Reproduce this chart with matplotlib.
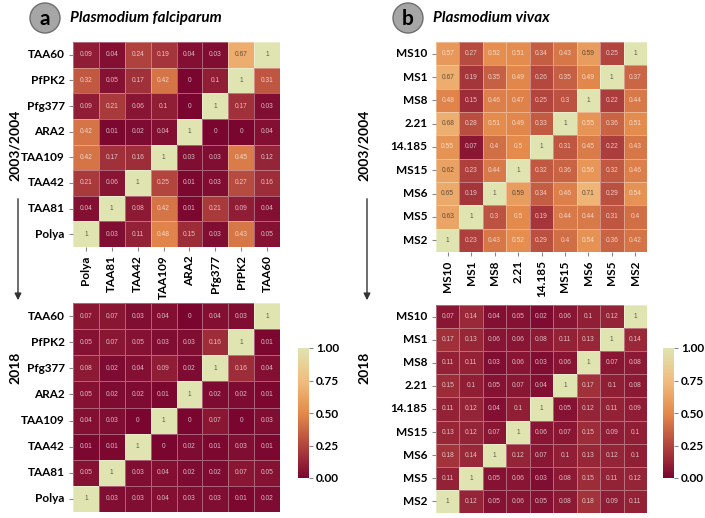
import numpy as np
import matplotlib
matplotlib.use("Agg")
import matplotlib.pyplot as plt
import seaborn as sns
from matplotlib.colors import LinearSegmentedColormap
from matplotlib.patches import Circle

pf_loci = ["TAA60", "PfPK2", "Pfg377", "ARA2", "TAA109", "TAA42", "TAA81", "Polya"]
pf_cols = ["Polya", "TAA81", "TAA42", "TAA109", "ARA2", "Pfg377", "PfPK2", "TAA60"]
pv_loci = ["MS10", "MS1", "MS8", "2.21", "14.185", "MS15", "MS6", "MS5", "MS2"]
pv_cols = ["MS10", "MS1", "MS8", "2.21", "14.185", "MS15", "MS6", "MS5", "MS2"]

pf_2003 = [
    [0.09, 0.04, 0.24, 0.19, 0.04, 0.03, 0.67, 1],
    [0.32, 0.05, 0.17, 0.42, 0, 0.1, 1, 0.31],
    [0.09, 0.21, 0.06, 0.1, 0, 1, 0.17, 0.03],
    [0.42, 0.01, 0.02, 0.04, 1, 0, 0, 0.04],
    [0.42, 0.17, 0.16, 1, 0.03, 0.03, 0.45, 0.12],
    [0.21, 0.06, 1, 0.25, 0.01, 0.03, 0.27, 0.16],
    [0.04, 1, 0.08, 0.42, 0.01, 0.21, 0.09, 0.04],
    [1, 0.03, 0.11, 0.48, 0.15, 0.03, 0.43, 0.05],
]
pf_2018 = [
    [0.07, 0.07, 0.03, 0.04, 0, 0.04, 0.03, 1],
    [0.05, 0.07, 0.05, 0.03, 0.03, 0.16, 1, 0.01],
    [0.08, 0.02, 0.04, 0.09, 0.02, 1, 0.16, 0.04],
    [0.05, 0.02, 0.02, 0.01, 1, 0.02, 0.02, 0.01],
    [0.04, 0.03, 0, 1, 0, 0.07, 0, 0.03],
    [0.01, 0.01, 1, 0, 0.02, 0.01, 0.03, 0.01],
    [0.05, 1, 0.03, 0.04, 0.02, 0.02, 0.07, 0.05],
    [1, 0.03, 0.03, 0.04, 0.03, 0.03, 0.01, 0.02],
]
pv_2003 = [
    [0.57, 0.27, 0.52, 0.51, 0.34, 0.43, 0.59, 0.25, 1],
    [0.67, 0.19, 0.35, 0.49, 0.26, 0.35, 0.49, 1, 0.37],
    [0.48, 0.15, 0.46, 0.47, 0.25, 0.3, 1, 0.22, 0.44],
    [0.68, 0.28, 0.51, 0.49, 0.33, 1, 0.55, 0.36, 0.51],
    [0.55, 0.07, 0.4, 0.5, 1, 0.31, 0.45, 0.22, 0.43],
    [0.62, 0.23, 0.44, 1, 0.32, 0.36, 0.56, 0.32, 0.46],
    [0.65, 0.19, 1, 0.59, 0.34, 0.46, 0.71, 0.29, 0.54],
    [0.63, 1, 0.3, 0.5, 0.19, 0.44, 0.44, 0.31, 0.4],
    [1, 0.23, 0.43, 0.52, 0.29, 0.4, 0.54, 0.36, 0.42],
]
pv_2018 = [
    [0.07, 0.14, 0.04, 0.05, 0.02, 0.06, 0.1, 0.12, 1],
    [0.17, 0.13, 0.06, 0.06, 0.08, 0.11, 0.13, 1, 0.14],
    [0.11, 0.11, 0.03, 0.06, 0.03, 0.06, 1, 0.07, 0.08],
    [0.15, 0.1, 0.05, 0.07, 0.04, 1, 0.17, 0.1, 0.08],
    [0.11, 0.12, 0.04, 0.1, 1, 0.05, 0.12, 0.11, 0.09],
    [0.13, 0.12, 0.07, 1, 0.06, 0.07, 0.15, 0.09, 0.1],
    [0.18, 0.14, 1, 0.12, 0.07, 0.1, 0.13, 0.12, 0.1],
    [0.11, 1, 0.05, 0.06, 0.03, 0.08, 0.15, 0.11, 0.12],
    [1, 0.12, 0.05, 0.06, 0.05, 0.08, 0.18, 0.09, 0.11],
]

plt.rcParams['font.family'] = ['Lato', 'DejaVu Sans']

cmap = LinearSegmentedColormap.from_list(
    "ld", [(0.0, "#7a0630"), (0.25, "#b2453e"), (0.5, "#e48a4c"),
           (0.75, "#f0bd7e"), (1.0, "#dfe4b1")])

W, H = 705, 518
fig = plt.figure(figsize=(W / 100, H / 100), dpi=100)


def px(x0, y0, x1, y1):
    return [x0 / W, 1 - y1 / H, (x1 - x0) / W, (y1 - y0) / H]


# overlay for titles and arrows
ov = fig.add_axes([0, 0, 1, 1])
ov.set_xlim(0, W)
ov.set_ylim(H, 0)
ov.axis("off")

for cx, letter, title in [(45, "a", "Plasmodium falciparum"), (408, "b", "Plasmodium vivax")]:
    ov.add_patch(Circle((cx, 18), 15, facecolor="#a6a6a6", edgecolor="#6e6e6e", lw=1))
    ov.text(cx, 19, letter, ha="center", va="center", fontsize=15, fontweight="bold")
    ov.text(cx + 25, 18, title, ha="left", va="center", fontsize=11,
            fontweight="bold", fontstyle="italic")

for ax_x in [15, 364]:
    ov.text(ax_x, 145, "2003/2004", rotation=90, ha="center", va="center",
            fontsize=10, fontweight="bold")
    ov.annotate("", xy=(ax_x + 3, 303), xytext=(ax_x + 3, 196),
                arrowprops=dict(arrowstyle="-|>", color="#333333", lw=1, mutation_scale=10))
    ov.text(ax_x, 368, "2018", rotation=90, ha="center", va="center",
            fontsize=10, fontweight="bold")


def draw(rect, data, rows, cols, show_x, cbar_rect=None):
    ax = fig.add_axes(px(*rect))
    if cbar_rect is not None:
        cax = fig.add_axes(px(*cbar_rect))
        kw = dict(cbar=True, cbar_ax=cax)
    else:
        kw = dict(cbar=False)
    sns.heatmap(np.array(data), ax=ax, cmap=cmap, vmin=0, vmax=1, annot=True, fmt="g",
                annot_kws={"fontsize": 4.8, "alpha": 0.7, "family": "Liberation Sans"},
                linewidths=0.5, linecolor=(1, 1, 1, 0.35),
                xticklabels=cols, yticklabels=rows, **kw)
    ax.tick_params(axis="y", length=3, color="#888888", pad=3)
    ax.set_yticklabels(rows, rotation=0, fontsize=8.5, fontweight="bold")
    if show_x:
        ax.set_xticklabels(cols, rotation=90, fontsize=8.5, fontweight="bold")
        ax.tick_params(axis="x", length=3, color="#888888", pad=3)
    else:
        ax.set_xticks([])
    if cbar_rect is not None:
        cb = ax.collections[0].colorbar
        cb.outline.set_visible(False)
        cb.set_ticks([0, 0.25, 0.5, 0.75, 1])
        cb.set_ticklabels(["0.00", "0.25", "0.50", "0.75", "1.00"])
        cb.ax.tick_params(labelsize=8.5, length=3, color="#888888", pad=2)
        for t in cb.ax.get_yticklabels():
            t.set_fontweight("bold")
    return ax


draw((73, 42, 280, 247), pf_2003, pf_loci, pf_cols, True)
draw((73, 303, 280, 512), pf_2018, pf_loci, pf_cols, False, (298, 348, 309, 478))
draw((436, 42, 647, 252), pv_2003, pv_loci, pv_cols, True)
draw((436, 305, 647, 513), pv_2018, pv_loci, pv_cols, False, (663, 348, 674, 478))

fig.savefig("out.png", dpi=100)
